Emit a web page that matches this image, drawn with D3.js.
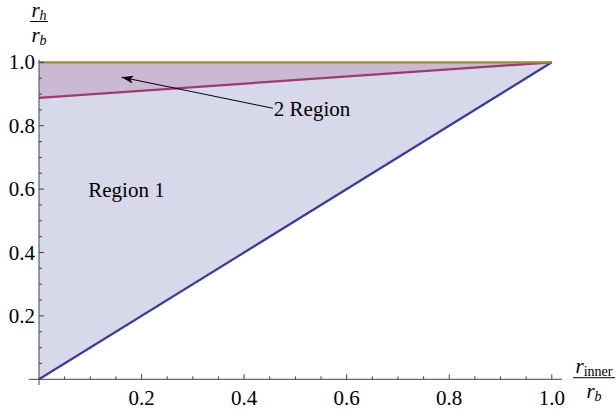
<!DOCTYPE html>
<html><head><meta charset="utf-8">
<script src="https://cdn.jsdelivr.net/npm/d3@7"></script>
</head><body style="margin:0"><svg id="c" width="616" height="412"></svg>
<script>
const xVals = [0, 1];
const region1Lower = [0, 1];      // r_h/r_b = r_inner/r_b
const region2Lower = [0.888, 1];  // second boundary
const topBound = [1, 1];
const xMajorTicks = [0.2, 0.4, 0.6, 0.8, 1.0];
const yMajorTicks = [0.2, 0.4, 0.6, 0.8, 1.0];
const minorStep = 0.05;
const labels = [{text: "Region 1", x: 0.096, y: 0.575}];
const arrowLabel = {text: "2 Region", from: [0.458, 0.855], to: [0.161, 0.953]};

const FONT = '"Liberation Serif"';
const svg = d3.select("#c");
const x = d3.scaleLinear().domain([0, 1]).range([39, 551.8]);
const y = d3.scaleLinear().domain([0, 1]).range([379.3, 62.3]);
const txt = (sel) => sel.append("text").style("font-family", FONT).attr("fill", "#000");

const pts = (lo, hi) => xVals.map((v, i) => ({x: v, lo: lo[i], hi: hi[i]}));
const area = d3.area().x(d => x(d.x)).y0(d => y(d.lo)).y1(d => y(d.hi));
svg.append("path").attr("d", area(pts(region1Lower, topBound))).attr("fill", "rgb(61,61,153)").attr("fill-opacity", 0.2);
svg.append("path").attr("d", area(pts(region2Lower, topBound))).attr("fill", "rgb(153,61,113)").attr("fill-opacity", 0.2);

const line = d3.line().x(d => x(d[0])).y(d => y(d[1]));
const series = [[region1Lower, "rgb(61,61,153)"], [region2Lower, "rgb(153,61,113)"], [topBound, "rgb(153,139,61)"]];
series.forEach(([vals, col]) => {
  svg.append("path").attr("d", line(xVals.map((v, i) => [v, vals[i]]))).attr("fill", "none")
    .attr("stroke", col).attr("stroke-width", 2.2);
});

// axes
const axCol = "#444";
svg.append("line").attr("x1", x(-0.02)).attr("x2", x(1.02)).attr("y1", y(0)).attr("y2", y(0)).attr("stroke", axCol).attr("stroke-width", 1);
svg.append("line").attr("x1", x(0)).attr("x2", x(0)).attr("y1", y(-0.018)).attr("y2", y(1.008)).attr("stroke", axCol).attr("stroke-width", 1);
const minors = d3.range(1, 21).map(i => i * minorStep);
minors.forEach(v => {
  const major = Math.abs(Math.round(v * 5) - v * 5) < 1e-6;
  const len = major ? 5 : 3;
  svg.append("line").attr("x1", x(v)).attr("x2", x(v)).attr("y1", y(0)).attr("y2", y(0) - len).attr("stroke", axCol);
  svg.append("line").attr("x1", x(0)).attr("x2", x(0) + len).attr("y1", y(v)).attr("y2", y(v)).attr("stroke", axCol);
});
const FS = 21;
xMajorTicks.forEach(v => {
  txt(svg).attr("x", x(v)).attr("y", 405).attr("text-anchor", "middle").attr("font-size", FS).text(d3.format(".1f")(v));
});
yMajorTicks.forEach(v => {
  txt(svg).attr("x", 35).attr("y", y(v) + 7).attr("text-anchor", "end").attr("font-size", FS).text(d3.format(".1f")(v));
});

// axis labels (fractions)
function frac(cx, barY, num, sub, den, denSub, x1, x2) {
  const t = txt(svg).attr("x", cx).attr("y", barY - 5).attr("text-anchor", "middle").attr("font-size", FS);
  t.append("tspan").attr("font-style", "italic").text(num);
  t.append("tspan").attr("font-size", 14).attr("dy", 3).attr("font-style", sub === "inner" ? "normal" : "italic").text(sub);
  svg.append("line").attr("x1", x1).attr("x2", x2).attr("y1", barY).attr("y2", barY).attr("stroke", "#000").attr("stroke-width", 1);
  const d = txt(svg).attr("x", cx).attr("y", barY + 20).attr("text-anchor", "middle").attr("font-size", FS);
  d.append("tspan").attr("font-style", "italic").text(den);
  d.append("tspan").attr("font-size", 14).attr("dy", 3).attr("font-style", "italic").text(denSub);
}
frac(39, 21.5, "r", "h", "r", "b", 30, 48);
frac(594, 377.7, "r", "inner", "r", "b", 573, 615);

// labels
labels.forEach(l => txt(svg).attr("x", x(l.x)).attr("y", y(l.y)).attr("font-size", FS).text(l.text));

// arrow
svg.append("defs").append("marker").attr("id", "ah").attr("viewBox", "0 0 12 8").attr("refX", 12).attr("refY", 4)
  .attr("markerWidth", 12).attr("markerHeight", 8).attr("markerUnits", "userSpaceOnUse").attr("orient", "auto")
  .append("path").attr("d", "M0,0 L12,4 L0,8 L3,4 Z").attr("fill", "#000");
svg.append("line").attr("x1", x(arrowLabel.from[0]) - 1).attr("y1", y(arrowLabel.from[1]))
  .attr("x2", x(arrowLabel.to[0])).attr("y2", y(arrowLabel.to[1])).attr("stroke", "#000").attr("stroke-width", 1).attr("marker-end", "url(#ah)");
txt(svg).attr("x", x(arrowLabel.from[0])).attr("y", y(arrowLabel.from[1]) + 8).attr("font-size", FS).text(arrowLabel.text);
</script></body></html>
